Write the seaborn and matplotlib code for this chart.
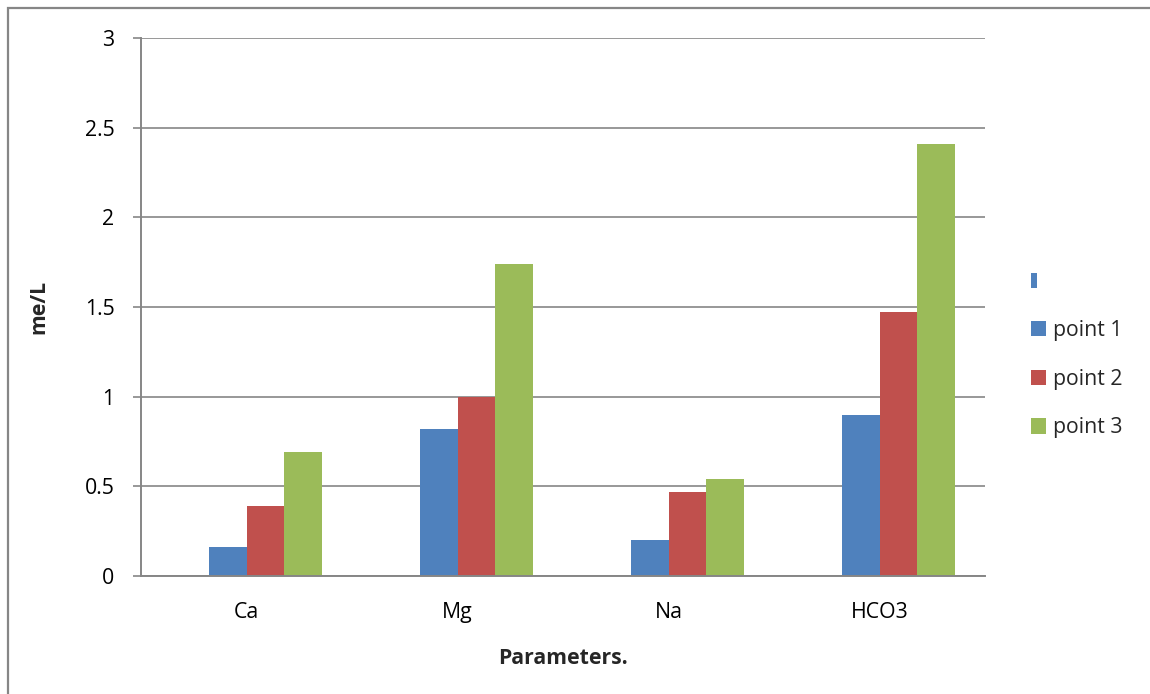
import matplotlib
matplotlib.use("Agg")
import matplotlib.pyplot as plt
from matplotlib.patches import Rectangle, Patch
from matplotlib.legend_handler import HandlerPatch
import pandas as pd
import seaborn as sns

# Ion concentrations (me/L) at three sampling points
parameters = ["Ca", "Mg", "Na", "HCO3"]
point_1 = [0.16, 0.82, 0.20, 0.90]
point_2 = [0.39, 1.00, 0.47, 1.47]
point_3 = [0.69, 1.74, 0.54, 2.41]
series_names = ["blank", "point 1", "point 2", "point 3"]
series_colors = ["#4F81BD", "#4F81BD", "#C0504D", "#9BBB59"]
y_ticks = [0, 0.5, 1, 1.5, 2, 2.5, 3]

rows = []
for name, vals in zip(series_names[1:], [point_1, point_2, point_3]):
    for p, v in zip(parameters, vals):
        rows.append({"Parameter": p, "Series": name, "Value": v})
df = pd.DataFrame(rows)

sns.set_style("white")
plt.rcParams["font.family"] = ["Open Sans", "DejaVu Sans"]
FS = 15.3

fig = plt.figure(figsize=(11.5, 6.94), dpi=100)
ax = fig.add_axes([141 / 1150, 118 / 694, 844 / 1150, 538 / 694])

sns.barplot(
    data=df, x="Parameter", y="Value", hue="Series",
    order=parameters, hue_order=series_names,
    palette=dict(zip(series_names, series_colors)), saturation=1,
    width=0.72, gap=0, dodge=True, errorbar=None,
    linewidth=0, edgecolor="none", legend=False, ax=ax, zorder=3,
)

grid_c = "#868686"
ax.set_ylim(0, 3)
ax.set_xlim(-0.5, len(parameters) - 0.5)
ax.set_yticks(y_ticks)
ax.set_yticklabels(["0", "0.5", "1", "1.5", "2", "2.5", "3"])
ax.yaxis.grid(True, color=grid_c, linewidth=1.2, zorder=0)
ax.set_axisbelow(True)
for s in ["top", "right"]:
    ax.spines[s].set_visible(False)
for s in ["left", "bottom"]:
    ax.spines[s].set_color(grid_c)
    ax.spines[s].set_linewidth(1.4)
ax.spines["bottom"].set_zorder(4)

ax.tick_params(axis="y", which="major", left=True, length=6, width=1.2,
               color=grid_c, direction="out", pad=13, labelsize=FS, labelcolor="black")
ax.tick_params(axis="x", length=0, pad=19, labelsize=FS, labelcolor="black")

ax.set_xlabel("Parameters.", fontsize=FS, fontweight="bold")
ax.set_ylabel("me/L", fontsize=FS, fontweight="bold")
ax.xaxis.set_label_coords(0.5, -0.134)
ax.yaxis.set_label_coords(-0.108, 0.5)

# thin handle for the blank series, squares for the others
class NarrowHandler(HandlerPatch):
    def create_artists(self, legend, orig_handle, xdescent, ydescent,
                       width, height, fontsize, trans):
        r = Rectangle((-xdescent, -ydescent), width * 0.36, height,
                      facecolor=orig_handle.get_facecolor(), edgecolor="none",
                      transform=trans)
        return [r]

handles = [Patch(facecolor=c, edgecolor="none") for c in series_colors]
labels = [""] + series_names[1:]
leg = fig.legend(
    handles, labels, loc="center left", bbox_to_anchor=(1012 / 1150, 1 - 355 / 694),
    frameon=False, fontsize=FS, handlelength=0.72, handleheight=0.72,
    handletextpad=0.3, labelspacing=1.3,
    handler_map={handles[0]: NarrowHandler()},
)

# outer chart border
fig.add_artist(Rectangle((8 / 1150, -0.1), 1.2, 1.1 - 8 / 694,
                         transform=fig.transFigure, fill=False,
                         edgecolor=grid_c, linewidth=1.6))

fig.savefig("out.png", dpi=100)
